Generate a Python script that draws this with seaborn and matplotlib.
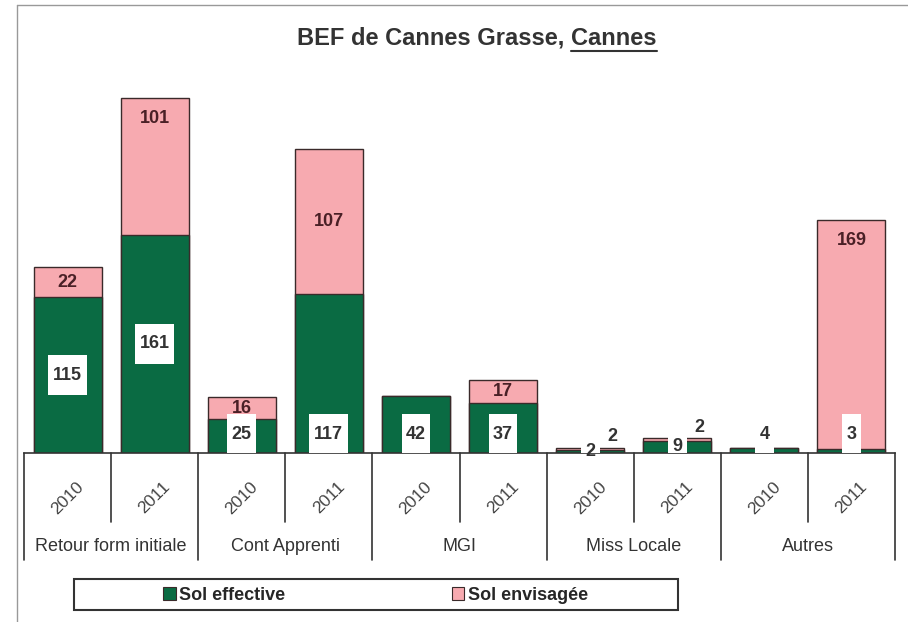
import numpy as np
import pandas as pd
import matplotlib
matplotlib.use("Agg")
import matplotlib.pyplot as plt
from matplotlib.patches import Patch, Rectangle
from matplotlib.lines import Line2D
import seaborn as sns

# data
groups = ["Retour form initiale", "Cont Apprenti", "MGI", "Miss Locale", "Autres"]
years = ["2010", "2011"]
sol_effective = [115, 161, 25, 117, 42, 37, 2, 9, 4, 3]
sol_envisagee = [22, 101, 16, 107, 0, 17, 2, 2, 0, 169]

# where each value label sits ("mid" of segment, near "top", or "above" the bar)
eff_label_mode = ["mid", "mid", "low", "low", "low", "low", "mid", "mid", "low", "low"]
env_label_mode = ["mid", "top", "mid", "mid", None, "mid", "above", "above", None, "top"]

GREEN = "#0a6b43"
PINK = "#f7aab0"
EDGE = "#3a2a2a"
TXT = "#333333"

sns.set_theme(style="white")
plt.rcParams["font.family"] = ["Liberation Sans", "DejaVu Sans"]

slots = [f"{g} {y}" for g in groups for y in years]
df = pd.DataFrame({
    "slot": slots,
    "effective": sol_effective,
    "envisagee": sol_envisagee,
})
df["total"] = df["effective"] + df["envisagee"]

fig = plt.figure(figsize=(9.08, 6.22), dpi=100)
ax = fig.add_axes([24 / 908, (622 - 453) / 622, 871 / 908, 393 / 622])

sns.barplot(data=df, x="slot", y="total", order=slots, color=PINK, saturation=1,
            width=0.78, edgecolor=EDGE, linewidth=1, ax=ax)
sns.barplot(data=df, x="slot", y="effective", order=slots, color=GREEN, saturation=1,
            width=0.78, edgecolor=EDGE, linewidth=1, ax=ax)

ax.set_xlim(-0.5, len(slots) - 0.5)
ax.set_ylim(0, 290)
ax.set_xlabel("")
ax.set_ylabel("")
ax.set_xticks([])
ax.set_yticks([])
for side in ["top", "left", "right"]:
    ax.spines[side].set_visible(False)
ax.spines["bottom"].set_color(TXT)
ax.spines["bottom"].set_linewidth(1.2)

# value labels
for i, row in df.iterrows():
    e, v = row["effective"], row["envisagee"]
    mode = eff_label_mode[i]
    y = e / 2 if mode == "mid" else 14
    b0 = max(y - 14.5, 0)
    w = 0.1 + 0.115 * len(str(e))
    ax.add_patch(Rectangle((i - w / 2, b0), w, 29, facecolor="white", edgecolor="none", zorder=3))
    ax.text(i, y, str(e), ha="center", va="center", fontsize=13, fontweight="bold",
            color=TXT, zorder=4)

    mode = env_label_mode[i]
    if mode is None:
        continue
    xo = i
    if mode == "mid":
        y = e + v / 2
    elif mode == "top":
        y = e + v - 15
    else:
        y = e + v + 8
        xo = i + 0.25
    ax.text(xo, y, str(v), ha="center", va="center", fontsize=13, fontweight="bold",
            color="#4a2026" if mode != "above" else TXT, zorder=4)

# category table under the axis
tr = ax.get_xaxis_transform()
for k in range(len(slots) + 1):
    y_end = -0.272 if k % 2 == 0 else -0.1756
    ax.add_line(Line2D([k - 0.5, k - 0.5], [0, y_end], transform=tr, color=TXT,
                       lw=1.2, clip_on=False))
for i, s in enumerate(slots):
    ax.text(i, -0.1145, years[i % 2], transform=tr, rotation=45, ha="center", va="center",
            fontsize=12.5, color="#444444")
for j, g in enumerate(groups):
    ax.text(2 * j + 0.5, -0.239, g, transform=tr, ha="center", va="center",
            fontsize=13, color=TXT)

# title with underlined last word
t_full = fig.text(477 / 908, 1 - 38 / 622, "BEF de Cannes Grasse, Cannes", ha="center",
                  va="center", fontsize=17, fontweight="bold", color=TXT)
t_last = fig.text(0, 0, "Cannes", fontsize=17, fontweight="bold", alpha=0)
fig.canvas.draw()
r = fig.canvas.get_renderer()
bb = t_full.get_window_extent(r)
wl = t_last.get_window_extent(r).width
fig.add_artist(Line2D([(bb.x1 - wl) / 908, bb.x1 / 908], [(bb.y0 - 1) / 622] * 2,
                      color=TXT, lw=1.5, transform=fig.transFigure))

# legend box
fig.add_artist(Rectangle((74 / 908, 12 / 622), 604 / 908, 31 / 622, transform=fig.transFigure,
                         facecolor="white", edgecolor=TXT, lw=1.5))
handles = [Patch(facecolor=GREEN, edgecolor=EDGE, lw=0.8, label="Sol effective"),
           Patch(facecolor=PINK, edgecolor=EDGE, lw=0.8, label="Sol envisagée")]
fig.legend(handles=handles, loc="center left", bbox_to_anchor=(156 / 908, 1 - 595 / 622),
           frameon=False, ncol=2, handlelength=0.7, handleheight=0.7, handletextpad=0.2,
           columnspacing=9.2, prop={"weight": "bold", "size": 13}, borderaxespad=0)

# outer frame of the original picture
fig.add_artist(Line2D([17 / 908, 17 / 908], [0, 1 - 5 / 622], color="#999999", lw=1,
                      transform=fig.transFigure))
fig.add_artist(Line2D([17 / 908, 1], [1 - 5 / 622] * 2, color="#999999", lw=1,
                      transform=fig.transFigure))

fig.savefig("out.png", dpi=100)
